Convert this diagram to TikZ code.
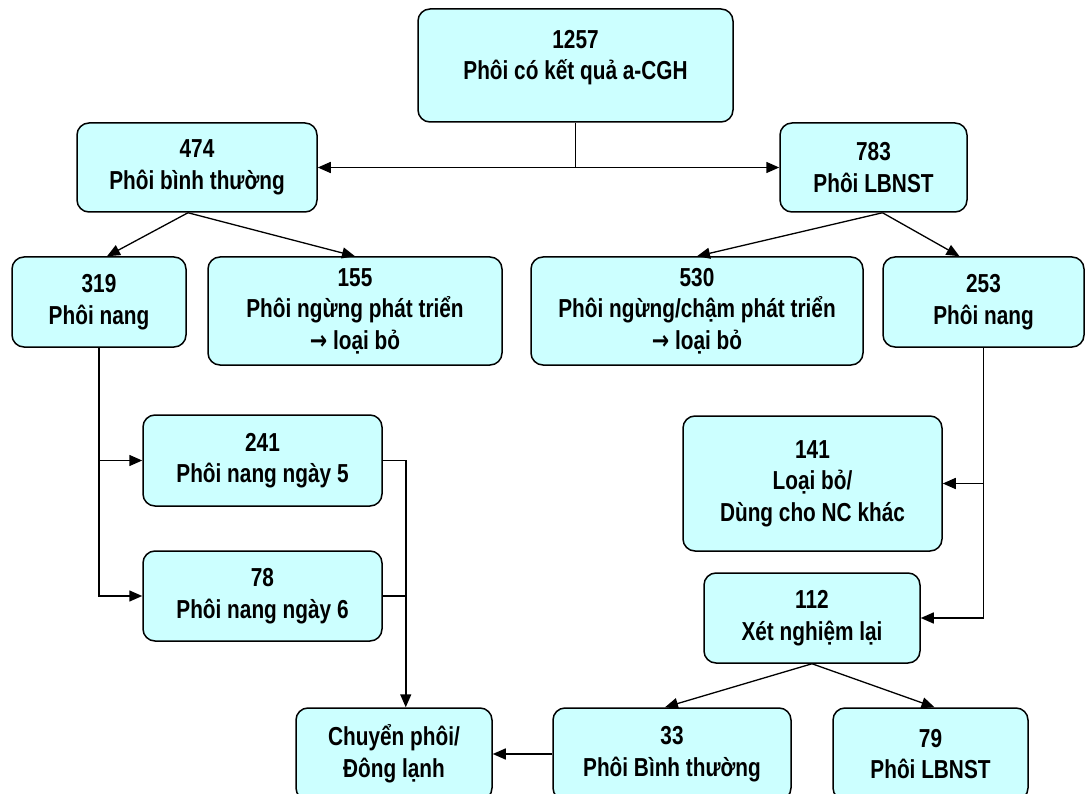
\documentclass[tikz,border=0pt]{standalone}
\usepackage{fontspec}
\setmainfont{Liberation Sans}[FakeStretch=0.8]
\newfontfamily\muiten{DejaVu Sans}[FakeStretch=0.8]
\usetikzlibrary{arrows.meta}
\definecolor{nenphoi}{HTML}{CCFFFF}

\begin{document}
\begin{tikzpicture}[
    x=1pt, y=-1pt,
    every node/.style={font=\bfseries\fontsize{26}{31.5}\selectfont},
    phoi/.style={
        rectangle,
        rounded corners=12pt,
        draw,
        line width=1.5pt,
        fill=nenphoi,
        align=center,
        inner sep=2pt
    },
    ->/.style={-{Triangle[length=13pt,width=11pt]}},
    <->/.style={{Triangle[length=13pt,width=11pt]}-{Triangle[length=13pt,width=11pt]}}
]
    \useasboundingbox (0,0) rectangle (1086,794);

    % Nut goc
    \node[phoi, minimum width=315, minimum height=113] (goc) at (575.5,65.5)
         {1257\\Phôi có kết quả a-CGH\\[-10pt]};

    % Hai nhanh chinh
    \node[phoi, minimum width=240, minimum height=89] (binhthuong) at (197,167.5)
         {474\\Phôi bình thường};
    \node[phoi, minimum width=187, minimum height=89] (lbnst) at (873.5,167.5)
         {783\\Phôi LBNST};

    % Tang thu ba
    \node[phoi, minimum width=174, minimum height=90] (nang1) at (99,302)
         {319\\Phôi nang};
    \node[phoi, minimum width=294, minimum height=108] (loai1) at (355,311)
         {155\\Phôi ngừng phát triển\\{\muiten →} loại bỏ};
    \node[phoi, minimum width=332, minimum height=108] (loai2) at (697,311)
         {530\\Phôi ngừng/chậm phát triển\\{\muiten →} loại bỏ};
    \node[phoi, minimum width=201, minimum height=90] (nang2) at (983.5,302)
         {253\\Phôi nang};

    % Phoi nang ngay 5/6
    \node[phoi, minimum width=239, minimum height=91] (ngay5) at (262.5,460.5)
         {241\\Phôi nang ngày 5};
    \node[phoi, minimum width=239, minimum height=90] (ngay6) at (262.5,596)
         {78\\Phôi nang ngày 6};

    % Nhanh LBNST
    \node[phoi, minimum width=259, minimum height=135] (loaibo) at (812.5,483.5)
         {141\\Loại bỏ/\\Dùng cho NC khác};
    \node[phoi, minimum width=216, minimum height=90] (xetnghiem) at (812,618)
         {112\\Xét nghiệm lại};

    % Hang cuoi
    \node[phoi, minimum width=196, minimum height=92] (chuyen) at (394,754)
         {Chuyển phôi/\\Đông lạnh};
    \node[phoi, minimum width=238, minimum height=92] (binhthuong2) at (672,754)
         {33\\Phôi Bình thường};
    \node[phoi, minimum width=195, minimum height=92] (lbnst2) at (930.5,754)
         {79\\Phôi LBNST};

    % Ket noi
    \draw[line width=1.5pt] (goc.south) -- (goc.south |- binhthuong.east);
    \draw[<->, line width=1.5pt] (binhthuong.east) -- (lbnst.west);

    \draw[->, line width=1.3pt] ([xshift=-9]binhthuong.south) -- ([xshift=8]nang1.north);
    \draw[->, line width=1.3pt] ([xshift=-9]binhthuong.south) -- (loai1.north);
    \draw[->, line width=1.3pt] ([xshift=9]lbnst.south) -- (loai2.north);
    \draw[->, line width=1.3pt] ([xshift=9]lbnst.south) -- ([xshift=-24]nang2.north);

    \draw[->, line width=1.5pt] (nang1.south) |- (ngay6.west);
    \draw[->, line width=1.5pt] (nang1.south |- ngay5.west) -- (ngay5.west);

    \draw[->, line width=1.5pt] (ngay5.east) -- ++(23,0) coordinate (noi) -- (noi |- chuyen.north);
    \draw[line width=1.5pt] (ngay6.east) -- (ngay6.east -| noi);

    \draw[->, line width=1.5pt] (nang2.south) |- (xetnghiem.east);
    \draw[->, line width=1.5pt] (nang2.south |- loaibo.east) -- (loaibo.east);

    \draw[->, line width=1.3pt] (xetnghiem.south) -- ([xshift=-7]binhthuong2.north);
    \draw[->, line width=1.3pt] (xetnghiem.south) -- ([xshift=4]lbnst2.north);
    \draw[->, line width=1.5pt] (binhthuong2.west) -- (chuyen.east);
\end{tikzpicture}
\end{document}
